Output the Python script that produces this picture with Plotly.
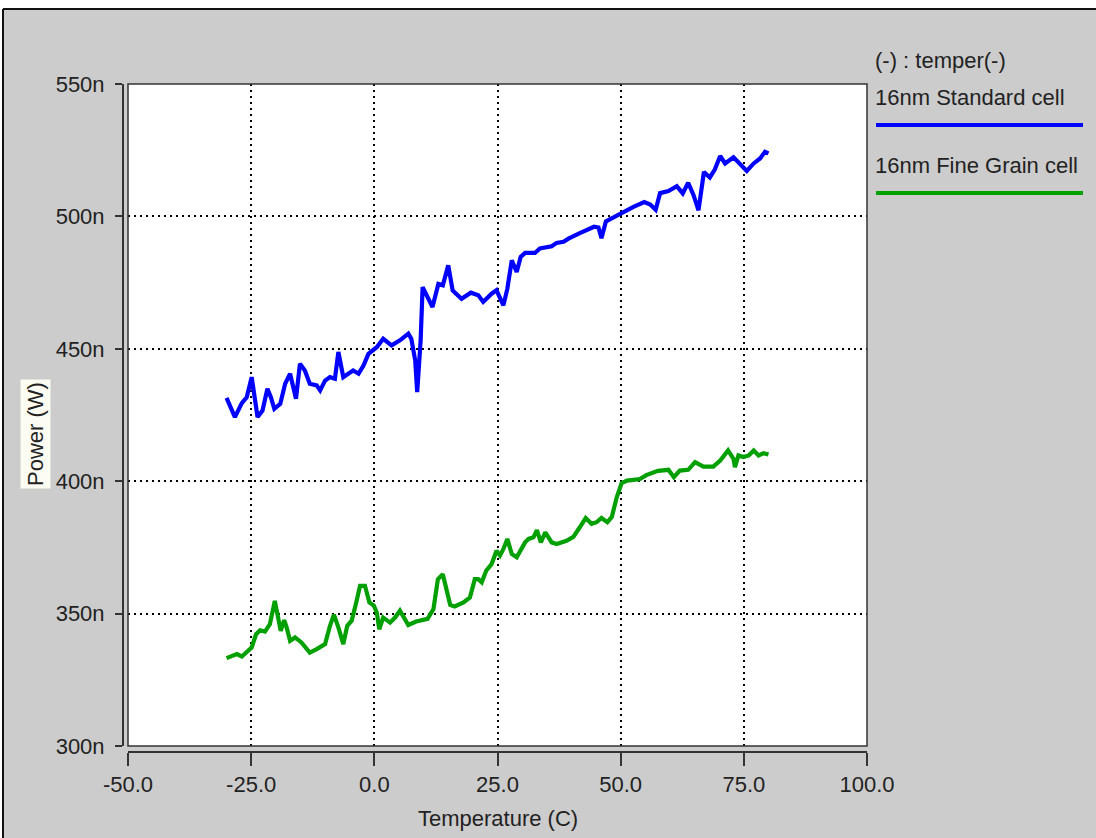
import plotly.graph_objects as go

# ---- data -------------------------------------------------------------
temp_std = [-30.0, -28.3, -26.9, -25.9, -24.9, -24.4, -23.7, -22.7, -21.7, -21.0,
            -20.3, -19.1, -18.1, -17.1, -16.6, -15.9, -15.1, -14.1, -13.1, -11.7,
            -11.0, -10.0, -9.0, -8.0, -7.3, -6.8, -6.3, -5.3, -4.3, -3.2,
            -2.2, -1.2, 0.5, 1.8, 3.5, 5.2, 6.9, 7.5, 8.3, 8.7,
            9.1, 9.4, 9.8, 10.6, 11.8, 13.0, 13.9, 15.0, 15.9, 17.7,
            19.6, 21.1, 22.1, 23.8, 24.8, 26.2, 27.0, 27.9, 28.9, 29.7,
            30.6, 32.6, 33.6, 36.0, 37.0, 38.4, 39.4, 41.7, 44.6, 45.5,
            46.1, 47.0, 48.5, 50.0, 51.9, 52.6, 54.8, 56.0, 57.1, 58.0,
            59.7, 61.4, 62.6, 63.7, 64.8, 65.8, 66.9, 68.1, 69.1, 70.2,
            71.2, 72.9, 75.6, 77.0, 78.3, 79.3, 80.0]
power_std = [431.5, 424.2, 429.5, 431.7, 439.3, 431.7, 424.2, 426.7, 434.9, 431.7,
             427.3, 429.2, 436.8, 440.6, 436.8, 431.1, 444.4, 441.8, 436.8, 436.2,
             434.3, 438.0, 439.3, 438.7, 448.8, 443.1, 439.3, 440.6, 441.8, 440.6,
             443.7, 448.1, 450.6, 453.8, 451.3, 453.2, 455.7, 453.8, 445.6, 433.6,
             443.1, 453.2, 473.3, 470.5, 465.8, 474.5, 474.0, 481.5, 472.0, 468.9,
             471.2, 470.2, 467.7, 470.8, 472.1, 466.4, 472.7, 483.4, 479.0, 484.7,
             486.2, 486.2, 487.9, 488.7, 490.0, 490.4, 491.6, 493.7, 496.1, 495.8,
             491.8, 498.1, 499.6, 501.2, 503.0, 503.6, 505.4, 504.5, 502.5, 508.8,
             509.6, 511.4, 508.7, 512.7, 508.0, 502.3, 516.8, 514.7, 517.7, 522.8,
             520.0, 522.3, 517.2, 520.0, 521.9, 524.4, 523.8]

temp_fg = [-30.0, -28.6, -27.9, -26.9, -25.9, -24.9, -24.0, -23.2, -22.2, -21.2,
           -20.2, -19.5, -19.0, -18.3, -17.8, -17.1, -16.1, -14.8, -13.1, -11.7,
           -10.0, -9.0, -8.2, -7.3, -6.3, -5.5, -4.6, -3.6, -2.9, -1.9,
           -1.0, -0.1, 0.5, 1.0, 1.8, 3.2, 4.2, 5.2, 6.9, 8.5,
           10.8, 12.0, 12.9, 13.9, 14.9, 15.4, 16.3, 18.1, 19.4, 20.4,
           21.1, 21.8, 22.7, 23.8, 24.8, 25.5, 26.2, 27.0, 27.9, 28.9,
           30.6, 31.3, 32.3, 33.0, 33.8, 34.7, 36.0, 37.0, 39.0, 40.4,
           41.7, 42.9, 44.1, 45.1, 46.1, 47.3, 48.2, 49.2, 50.2, 51.3,
           52.6, 53.9, 55.2, 57.6, 59.7, 60.8, 62.0, 63.7, 65.1, 66.8,
           68.8, 70.2, 71.8, 72.9, 73.2, 73.9, 74.9, 76.0, 77.0, 78.0,
           79.0, 80.0]
power_fg = [333.2, 334.0, 334.7, 333.8, 335.3, 337.2, 342.2, 343.7, 343.2, 346.0,
            354.8, 348.5, 343.5, 347.5, 344.8, 339.7, 341.0, 339.1, 335.3, 336.6,
            338.5, 345.4, 349.6, 344.8, 338.5, 345.4, 347.3, 354.8, 360.5, 360.5,
            354.2, 353.0, 350.4, 344.1, 348.5, 346.6, 348.5, 351.1, 345.7, 347.0,
            348.0, 351.7, 363.0, 364.9, 356.0, 353.3, 352.7, 354.2, 356.1, 363.0,
            363.0, 361.8, 366.2, 368.7, 373.7, 371.9, 374.4, 378.2, 372.5, 371.3,
            376.9, 378.2, 378.8, 381.5, 376.9, 380.7, 376.9, 376.3, 377.5, 379.0,
            382.6, 386.1, 383.9, 384.5, 386.1, 384.5, 386.5, 393.9, 399.3, 400.2,
            400.5, 400.8, 402.3, 403.9, 404.3, 401.5, 404.0, 404.3, 407.2, 405.5,
            405.5, 407.8, 411.6, 408.4, 405.3, 409.7, 409.1, 409.7, 411.6, 409.7,
            410.6, 410.1]

series_names = ["16nm Standard cell", "16nm Fine Grain cell"]
series_colors = ["#0000ff", "#00a000"]
legend_title = "(-) : temper(-)"
x_title = "Temperature (C)"
y_title = "Power (W)"
x_ticks = [-50.0, -25.0, 0.0, 25.0, 50.0, 75.0, 100.0]
y_ticks = [300, 350, 400, 450, 500, 550]

# ---- canvas geometry (pixels) -----------------------------------------
W, H = 1096, 838
PLOT_L, PLOT_R, PLOT_T, PLOT_B = 128, 867, 84, 746
XAXIS_Y = 752          # detached x-axis line
YAXIS_X = 123          # detached y-axis line


def px(x):
    return x / W


def py(y):
    return 1 - y / H


FONT = "Liberation Sans, Arial, sans-serif"
FSIZE = 22
TEXT = "#222222"

fig = go.Figure()
for xs, ys, name, color in [(temp_std, power_std, series_names[0], series_colors[0]),
                            (temp_fg, power_fg, series_names[1], series_colors[1])]:
    fig.add_trace(go.Scatter(x=xs, y=ys, mode="lines", name=name,
                             line=dict(color=color, width=4.2)))

axis_common = dict(
    automargin=False,
    showline=True, linecolor="#333333", linewidth=2,
    ticks="outside", tickcolor="#333333", tickwidth=2,
    showgrid=True, gridcolor="#000000", gridwidth=1.5, griddash="2px,4px",
    zeroline=False, tickfont=dict(family=FONT, size=FSIZE, color=TEXT),
)

fig.update_layout(
    width=W, height=H,
    margin=dict(l=0, r=0, t=0, b=0, pad=0, autoexpand=False),
    paper_bgcolor="#cccccc", plot_bgcolor="#ffffff",
    showlegend=False,
    xaxis=dict(domain=[px(PLOT_L), px(PLOT_R)], range=[-50, 100],
               tickvals=x_ticks, ticktext=[f"{v:.1f}" for v in x_ticks],
               anchor="free", position=py(XAXIS_Y), ticklen=13,
               **axis_common),
    yaxis=dict(domain=[py(PLOT_B), py(PLOT_T)], range=[300, 550],
               tickvals=y_ticks, ticktext=[f"{v}n" for v in y_ticks],
               anchor="free", position=px(YAXIS_X), ticklen=7,
               ticklabelstandoff=6,
               **axis_common),
)

shapes = [
    # white strips and dark frame edge of the panel
    dict(type="rect", xref="paper", yref="paper", x0=0, x1=1, y0=py(9), y1=1,
         fillcolor="#ffffff", line=dict(width=0), layer="below"),
    dict(type="rect", xref="paper", yref="paper", x0=0, x1=px(3), y0=0, y1=1,
         fillcolor="#ffffff", line=dict(width=0), layer="below"),
    dict(type="line", xref="paper", yref="paper", x0=px(3), x1=1, y0=py(9), y1=py(9),
         line=dict(color="#111111", width=2)),
    dict(type="line", xref="paper", yref="paper", x0=px(3), x1=px(3), y0=0, y1=py(9),
         line=dict(color="#111111", width=2)),
    # plot area frame
    dict(type="rect", xref="paper", yref="paper",
         x0=px(PLOT_L), x1=px(PLOT_R), y0=py(PLOT_B), y1=py(PLOT_T),
         line=dict(color="#333333", width=1.5)),
]

annotations = [
    dict(text=x_title, xref="paper", yref="paper", x=px((PLOT_L + PLOT_R) / 2), y=py(818),
         xanchor="center", yanchor="middle", showarrow=False,
         font=dict(family=FONT, size=FSIZE, color=TEXT)),
    dict(text=y_title, xref="paper", yref="paper", x=px(35), y=py(434),
         xanchor="center", yanchor="middle", showarrow=False, textangle=-90,
         bgcolor="#fcfcf2", borderpad=2,
         font=dict(family=FONT, size=FSIZE, color=TEXT)),
    dict(text=legend_title, xref="paper", yref="paper", x=px(873), y=py(60),
         xanchor="left", yanchor="middle", showarrow=False,
         font=dict(family=FONT, size=FSIZE, color=TEXT)),
]

# legend block drawn beside the plot: name above a colour bar
legend_rows = [(97, 125), (165, 193)]
for (text_y, bar_y), name, color in zip(legend_rows, series_names, series_colors):
    annotations.append(dict(text=name, xref="paper", yref="paper", x=px(873), y=py(text_y),
                            xanchor="left", yanchor="middle", showarrow=False,
                            font=dict(family=FONT, size=FSIZE, color=TEXT)))
    shapes.append(dict(type="line", xref="paper", yref="paper",
                       x0=px(876), x1=px(1083), y0=py(bar_y), y1=py(bar_y),
                       line=dict(color=color, width=4)))

fig.update_layout(shapes=shapes, annotations=annotations)
fig.write_html("out.html")
